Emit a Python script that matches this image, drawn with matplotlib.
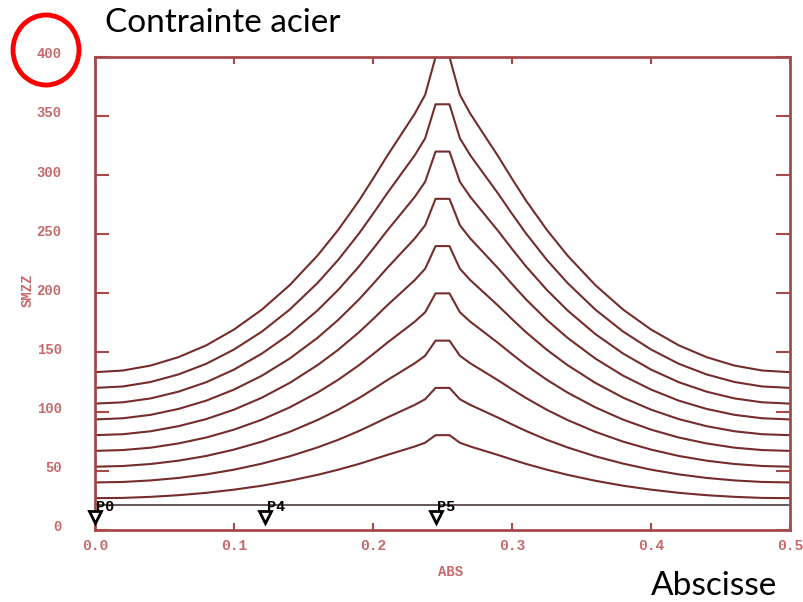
import matplotlib
matplotlib.use("Agg")
import matplotlib.pyplot as plt
from matplotlib.patches import Ellipse
from matplotlib.transforms import ScaledTranslation

# Abscissa of the mesh nodes along the steel bar
abs_x = [0.0, 0.02, 0.04, 0.06, 0.08, 0.10, 0.12, 0.14, 0.16, 0.175, 0.19, 0.20,
         0.21, 0.22, 0.23, 0.2375, 0.245,
         0.255, 0.2625, 0.27, 0.28, 0.29, 0.30, 0.31, 0.325, 0.34, 0.36, 0.38,
         0.40, 0.42, 0.44, 0.46, 0.48, 0.5]

# SMZZ stress in the steel, one profile per load step
smzz_400 = [133.3, 134.7, 138.9, 146.0, 156.0, 169.4, 186.2, 206.9, 231.9, 253.8, 278.6, 297.0,
            316.0, 334.0, 352.0, 368.0, 400.0,
            400.0, 368.0, 352.0, 334.0, 316.0, 297.0, 278.6, 253.8, 231.9, 206.9, 186.2,
            169.4, 156.0, 146.0, 138.9, 134.7, 133.3]
smzz_360 = [120.0, 121.2, 125.0, 131.4, 140.4, 152.5, 167.6, 186.2, 208.7, 228.4, 250.8, 267.3,
            284.4, 300.6, 316.8, 331.2, 360.0,
            360.0, 331.2, 316.8, 300.6, 284.4, 267.3, 250.8, 228.4, 208.7, 186.2, 167.6,
            152.5, 140.4, 131.4, 125.0, 121.2, 120.0]
smzz_320 = [106.7, 107.8, 111.1, 116.8, 124.8, 135.5, 149.0, 165.5, 185.5, 203.0, 222.9, 237.6,
            252.8, 267.2, 281.6, 294.4, 320.0,
            320.0, 294.4, 281.6, 267.2, 252.8, 237.6, 222.9, 203.0, 185.5, 165.5, 149.0,
            135.5, 124.8, 116.8, 111.1, 107.8, 106.7]
smzz_280 = [93.3, 94.3, 97.2, 102.2, 109.2, 118.6, 130.3, 144.8, 162.3, 177.6, 195.0, 207.9,
            221.2, 233.8, 246.4, 257.6, 280.0,
            280.0, 257.6, 246.4, 233.8, 221.2, 207.9, 195.0, 177.6, 162.3, 144.8, 130.3,
            118.6, 109.2, 102.2, 97.2, 94.3, 93.3]
smzz_240 = [80.0, 80.8, 83.3, 87.6, 93.6, 101.6, 111.7, 124.2, 139.2, 152.3, 167.2, 178.2,
            189.6, 200.4, 211.2, 220.8, 240.0,
            240.0, 220.8, 211.2, 200.4, 189.6, 178.2, 167.2, 152.3, 139.2, 124.2, 111.7,
            101.6, 93.6, 87.6, 83.3, 80.8, 80.0]
smzz_200 = [66.7, 67.4, 69.4, 73.0, 78.0, 84.7, 93.1, 103.5, 116.0, 126.9, 139.3, 148.5,
            158.0, 167.0, 176.0, 184.0, 200.0,
            200.0, 184.0, 176.0, 167.0, 158.0, 148.5, 139.3, 126.9, 116.0, 103.5, 93.1,
            84.7, 78.0, 73.0, 69.4, 67.4, 66.7]
smzz_160 = [53.3, 53.9, 55.6, 58.4, 62.4, 67.8, 74.5, 82.8, 92.8, 101.5, 111.5, 118.8,
            126.4, 133.6, 140.8, 147.2, 160.0,
            160.0, 147.2, 140.8, 133.6, 126.4, 118.8, 111.5, 101.5, 92.8, 82.8, 74.5,
            67.8, 62.4, 58.4, 55.6, 53.9, 53.3]
smzz_120 = [40.0, 40.4, 41.7, 43.8, 46.8, 50.8, 55.9, 62.1, 69.6, 76.1, 83.6, 89.1,
            94.8, 100.2, 105.6, 110.4, 120.0,
            120.0, 110.4, 105.6, 100.2, 94.8, 89.1, 83.6, 76.1, 69.6, 62.1, 55.9,
            50.8, 46.8, 43.8, 41.7, 40.4, 40.0]
smzz_80 = [26.7, 26.9, 27.8, 29.2, 31.2, 33.9, 37.2, 41.4, 46.4, 50.8, 55.7, 59.4,
           63.2, 66.8, 70.4, 73.6, 80.0,
           80.0, 73.6, 70.4, 66.8, 63.2, 59.4, 55.7, 50.8, 46.4, 41.4, 37.2,
           33.9, 31.2, 29.2, 27.8, 26.9, 26.7]
profiles = [smzz_400, smzz_360, smzz_320, smzz_280, smzz_240,
            smzz_200, smzz_160, smzz_120, smzz_80]

# Initial (prestress) level and the named points along the bar
base_x = [0.0, 0.5]
base_y = [21, 21]
point_names = ["P0", "P4", "P5"]
point_x = [0.0, 0.1225, 0.245]
point_y = [10.5, 10.5, 10.5]

x_ticks = [0.0, 0.1, 0.2, 0.3, 0.4, 0.5]
x_ticklabels = ["0.0", "0.1", "0.2", "0.3", "0.4", "0.5"]
y_ticks = [0, 50, 100, 150, 200, 250, 300, 350, 400]

frame_col = "#a54a4a"
curve_col = "#742c2c"
label_col = "#c46a6a"
mono = "Liberation Mono"

fig = plt.figure(figsize=(8.04, 6.02), dpi=100)
ax = fig.add_axes([0.1182, 0.1201, 0.8644, 0.7852])

for prof in profiles:
    ax.plot(abs_x, prof, color=curve_col, lw=1.5)
ax.plot(base_x, base_y, color="#4a3838", lw=1.2)

ax.plot(point_x, point_y, linestyle="none", marker="v", markersize=8,
        markerfacecolor="white", markeredgecolor="black", markeredgewidth=2,
        clip_on=False, zorder=5)
for name, px in zip(point_names, point_x):
    ax.text(px + 0.001, 19.5, name, fontsize=11, family=mono, weight="bold",
            color="black", ha="left", va="center", zorder=6)

ax.set_xlim(0, 0.5)
ax.set_ylim(0, 400)
ax.set_xticks(x_ticks)
ax.set_xticklabels(x_ticklabels)
ax.set_yticks(y_ticks)

for side in ["left", "right", "top", "bottom"]:
    ax.spines[side].set_color(frame_col)
    ax.spines[side].set_linewidth(2)

ax.tick_params(axis="y", which="both", direction="in", length=10, width=1.5,
               color=frame_col, left=True, right=True, pad=24,
               labelsize=10, labelcolor=label_col)
ax.tick_params(axis="x", which="both", direction="in", length=5, width=1.5,
               color=frame_col, top=True, bottom=True, pad=7,
               labelsize=10.5, labelcolor=label_col)
lift = ScaledTranslation(0, 3 / 72, fig.dpi_scale_trans)
for lab in ax.get_yticklabels():
    lab.set_transform(lab.get_transform() + lift)
for lab in ax.get_xticklabels() + ax.get_yticklabels():
    lab.set_family(mono)
    lab.set_weight("bold")

fig.text(0.034, 0.518, "SMZZ", rotation=90, fontsize=10, family=mono,
         weight="bold", color=label_col, ha="center", va="center")
fig.text(0.560, 0.050, "ABS", fontsize=10, family=mono, weight="bold",
         color=label_col, ha="center", va="center")

fig.text(0.130, 0.962, "Contrainte acier", fontsize=24, family="Lato",
         color="black", ha="left", va="center")
fig.text(0.967, 0.027, "Abscisse", fontsize=24, family="Lato",
         color="black", ha="right", va="center")

ring = Ellipse((46 / 804, 1 - 50 / 602), 66 / 804, 70 / 602,
               transform=fig.transFigure, fill=False, edgecolor="#ff0000",
               linewidth=3.5)
fig.add_artist(ring)

fig.savefig("out.png", dpi=100)
